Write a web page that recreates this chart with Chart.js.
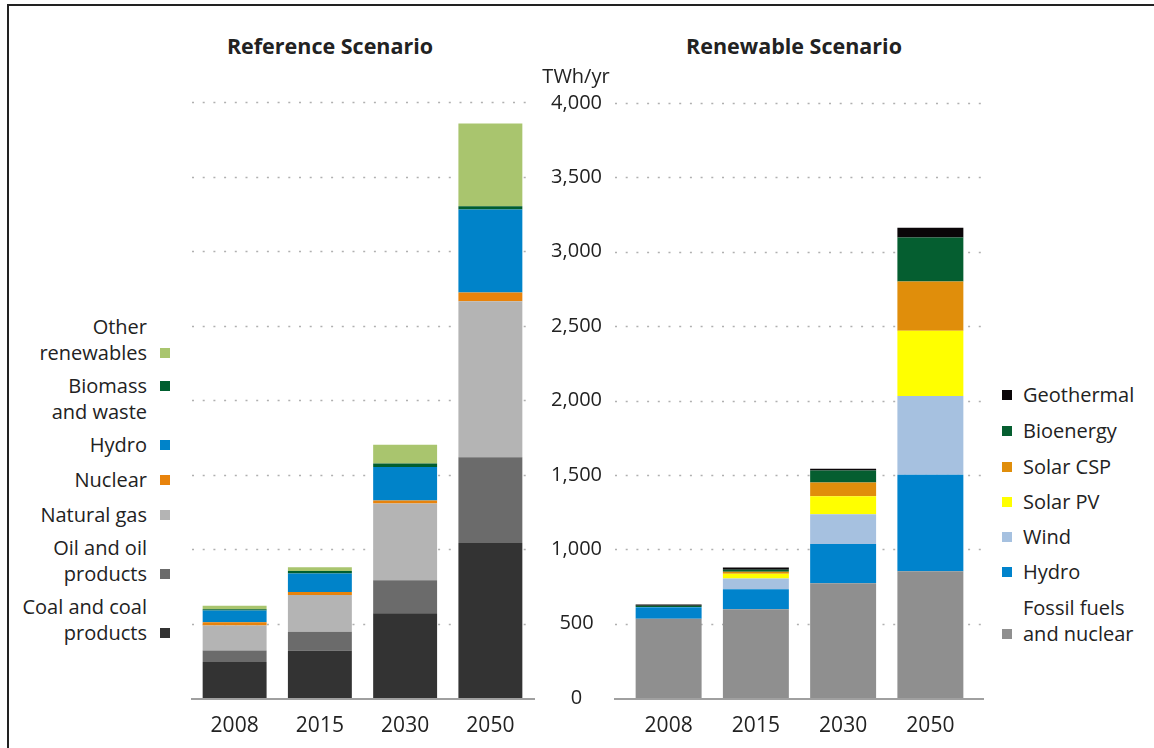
<!DOCTYPE html>
<html>
<head>
<meta charset="utf-8">
<script src="https://cdn.jsdelivr.net/npm/chart.js@4.4.1/dist/chart.umd.min.js"></script>
<style>
    html, body { margin: 0; padding: 0; background: #fff; }
    body { width: 1154px; height: 748px; position: relative; overflow: hidden; font-family: 'Open Sans', sans-serif; color: #222; }
    .frame { position: absolute; left: 7px; top: 4px; right: -4px; bottom: -4px; border-left: 2px solid #222; border-top: 2px solid #222; }
    canvas { position: absolute; }
    .title { position: absolute; top: 31px; font-weight: bold; font-size: 21.5px; white-space: nowrap; transform: translateX(-50%); }
    .unit { position: absolute; top: 62px; left: 576px; font-size: 20px; transform: translateX(-50%); }
    .leg { position: absolute; font-size: 20px; line-height: 26px; white-space: pre; }
    .leg .box { position: absolute; width: 10px; height: 10px; }
    .leg.left { text-align: right; right: 1007px; }
    .leg.right { left: 1023px; }
</style>
</head>
<body>
<div class="frame"></div>
<div class="title" style="left: 330px;">Reference Scenario</div>
<div class="title" style="left: 794px;">Renewable Scenario</div>
<canvas id="refChart" width="358" height="658" style="left: 180px; top: 80px;"></canvas>
<canvas id="renChart" width="455" height="662" style="left: 535px; top: 76px;"></canvas>
<div class="unit">TWh/yr</div>
<div id="legends"></div>
<script>
const years = ['2008', '2015', '2030', '2050'];
const yTicks = [0, 500, 1000, 1500, 2000, 2500, 3000, 3500, 4000];

// Reference Scenario, TWh/yr (bottom to top)
const refNames = ['Coal and coal\nproducts', 'Oil and oil\nproducts', 'Natural gas', 'Nuclear', 'Hydro', 'Biomass\nand waste', 'Other\nrenewables'];
const refColors = ['#333333', '#6b6b6b', '#b4b4b4', '#e8830c', '#0083c9', '#005e2f', '#a9c56e'];
const refCoal = [242, 317, 568, 1040];
const refOil = [76, 128, 223, 575];
const refGas = [168, 246, 515, 1047];
const refNuclear = [23, 20, 20, 60];
const refHydro = [78, 125, 225, 557];
const refBiomass = [8, 17, 23, 22];
const refOther = [24, 25, 125, 555];

// Renewable Scenario, TWh/yr (bottom to top)
const renNames = ['Fossil fuels\nand nuclear', 'Hydro', 'Wind', 'Solar PV', 'Solar CSP', 'Bioenergy', 'Geothermal'];
const renColors = ['#8f8f8f', '#0083cc', '#a6c1e0', '#ffff00', '#e08e0b', '#055e30', '#0a0608'];
const renFossil = [532, 597, 772, 852];
const renHydro = [78, 134, 264, 649];
const renWind = [2, 72, 199, 530];
const renPV = [0, 33, 121, 438];
const renCSP = [0, 13, 92, 331];
const renBio = [8, 13, 81, 295];
const renGeo = [8, 15, 13, 67];

const refSeries = [refCoal, refOil, refGas, refNuclear, refHydro, refBiomass, refOther];
const renSeries = [renFossil, renHydro, renWind, renPV, renCSP, renBio, renGeo];

const tickFont = { family: 'Open Sans', size: 20 };

// dotted grid behind the bars and a solid base line on top
const dottedGrid = {
    id: 'dottedGrid',
    beforeDatasetsDraw(chart, args, opts) {
        const { ctx, chartArea, scales: { y } } = chart;
        const x0 = chartArea.left - opts.extendLeft;
        const x1 = chartArea.right + opts.extendRight;
        ctx.save();
        ctx.strokeStyle = '#b0b0b0';
        ctx.lineWidth = 1.5;
        ctx.setLineDash([2, 8.7]);
        yTicks.slice(1).forEach(v => {
            const py = Math.round(y.getPixelForValue(v)) + 0.5;
            ctx.beginPath();
            ctx.moveTo(x0, py);
            ctx.lineTo(x1, py);
            ctx.stroke();
        });
        ctx.restore();
    },
    afterDatasetsDraw(chart, args, opts) {
        const { ctx, chartArea, scales: { y } } = chart;
        const by = y.getPixelForValue(0) + 1;
        ctx.save();
        ctx.strokeStyle = '#a0a0a0';
        ctx.lineWidth = 2;
        ctx.beginPath();
        ctx.moveTo(chartArea.left - opts.extendLeft - 1, by);
        ctx.lineTo(chartArea.right + opts.extendRight + 2, by);
        ctx.stroke();
        ctx.restore();
    }
};

function makeDatasets(names, colors, series, barPct) {
    return series.map((data, i) => ({
        label: names[i].replace('\n', ' '),
        data: data,
        backgroundColor: colors[i],
        borderWidth: 0,
        barPercentage: barPct,
        categoryPercentage: 1
    }));
}

const xScale = {
    stacked: true,
    grid: { display: false },
    border: { display: false },
    ticks: { color: '#222', font: { family: 'Open Sans', size: 21 }, padding: 7 },
    afterFit: s => { s.height = 40; }
};

new Chart(document.getElementById('refChart'), {
    type: 'bar',
    data: { labels: years, datasets: makeDatasets(refNames, refColors, refSeries, 0.75) },
    plugins: [dottedGrid],
    options: {
        responsive: false,
        animation: false,
        layout: { padding: { left: 12, right: 5, top: 22, bottom: 0 } },
        plugins: {
            legend: { display: false },
            tooltip: { enabled: false },
            dottedGrid: { extendLeft: 0, extendRight: 0 }
        },
        scales: {
            x: xScale,
            y: { stacked: true, display: false, min: 0, max: 4000 }
        }
    }
});

new Chart(document.getElementById('renChart'), {
    type: 'bar',
    data: { labels: years, datasets: makeDatasets(renNames, renColors, renSeries, 0.756) },
    plugins: [dottedGrid],
    options: {
        responsive: false,
        animation: false,
        layout: { padding: { left: 0, right: 16, top: 8, bottom: 0 } },
        plugins: {
            legend: { display: false },
            tooltip: { enabled: false },
            dottedGrid: { extendLeft: 10, extendRight: 8 }
        },
        scales: {
            x: xScale,
            y: {
                stacked: true,
                min: 0,
                max: 4000,
                grid: { display: false },
                border: { display: false },
                ticks: { stepSize: 500, crossAlign: 'center', padding: 15, color: '#222', font: tickFont },
                afterFit: s => { s.width = 90; }
            }
        }
    }
});

// legends: top of first text line, and which line carries the colour box
const refLegendPos = [[594, 1], [535, 1], [502, 0], [467, 0], [432, 0], [373, 0], [314, 1]];
const renLegendPos = [[595, 1], [559, 0], [524, 0], [489, 0], [454, 0], [418, 0], [382, 0]];

function buildLegend(names, colors, positions, side) {
    const holder = document.getElementById('legends');
    names.forEach((name, i) => {
        const [top, line] = positions[i];
        const el = document.createElement('div');
        el.className = 'leg ' + side;
        el.style.top = top + 'px';
        el.textContent = name;
        const box = document.createElement('span');
        box.className = 'box';
        box.style.background = colors[i];
        box.style.top = (8 + line * 26) + 'px';
        if (side === 'left') box.style.right = '-23px';
        else box.style.left = '-21px';
        el.appendChild(box);
        holder.appendChild(el);
    });
}

buildLegend(refNames, refColors, refLegendPos, 'left');
buildLegend(renNames, renColors, renLegendPos, 'right');
</script>
</body>
</html>
